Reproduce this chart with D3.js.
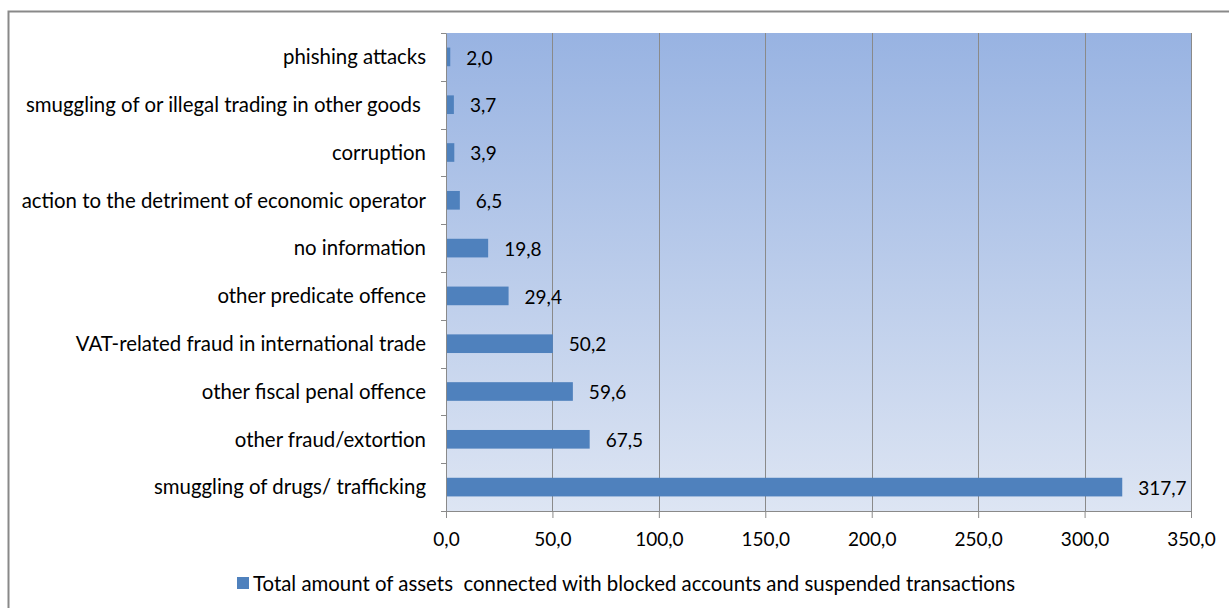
<!DOCTYPE html>
<html>
<head>
<meta charset="utf-8">
<script src="https://cdn.jsdelivr.net/npm/d3@7"></script>
<style>
  html, body { margin: 0; padding: 0; background: #fff; }
  svg text { font-family: Lato, "Open Sans", sans-serif; fill: #000; white-space: pre; }
</style>
</head>
<body>
<svg id="chart" width="1229" height="608"></svg>
<script>
// Offence categories, top to bottom
const categories = [
  "phishing attacks",
  "smuggling of or illegal trading in other goods ",
  "corruption",
  "action to the detriment of economic operator",
  "no information",
  "other predicate offence",
  "VAT-related fraud in international trade",
  "other fiscal penal offence",
  "other fraud/extortion",
  "smuggling of drugs/ trafficking"
];
// Total amount of assets per category
const values = [2.0, 3.7, 3.9, 6.5, 19.8, 29.4, 50.2, 59.6, 67.5, 317.7];
const xTicks = [0, 50, 100, 150, 200, 250, 300, 350];
const seriesName = "Total amount of assets  connected with blocked accounts and suspended transactions";

const svg = d3.select("#chart");
const fmt = v => d3.format(".1f")(v).replace(".", ",");

const plot = { left: 446, right: 1191, top: 33, bottom: 511 };
const labelSize = 20.4, numberSize = 19;

// outer frame
svg.append("rect")
  .attr("x", 8.5).attr("y", 11.5)
  .attr("width", 1240).attr("height", 620)
  .attr("fill", "none").attr("stroke", "#898989").attr("stroke-width", 2);

const defs = svg.append("defs");
const grad = defs.append("linearGradient")
  .attr("id", "bg").attr("x1", 0).attr("y1", 0).attr("x2", 0).attr("y2", 1);
grad.append("stop").attr("offset", "0%").attr("stop-color", "#98b3e2");
grad.append("stop").attr("offset", "100%").attr("stop-color", "#dde5f3");

const x = d3.scaleLinear().domain([0, 350]).range([plot.left, plot.right]);
const y = d3.scaleBand().domain(categories).range([plot.top, plot.bottom]).paddingInner(0).paddingOuter(0);

svg.append("rect")
  .attr("x", plot.left).attr("y", plot.top)
  .attr("width", plot.right - plot.left).attr("height", plot.bottom - plot.top)
  .attr("fill", "url(#bg)");

// vertical gridlines
svg.append("g").selectAll("line")
  .data(xTicks.slice(1))
  .join("line")
  .attr("x1", d => Math.round(x(d)) + 0.5).attr("x2", d => Math.round(x(d)) + 0.5)
  .attr("y1", plot.top).attr("y2", plot.bottom)
  .attr("stroke", "#8a8a8a").attr("stroke-width", 1);

// bars
const barH = y.bandwidth() * 0.39;
svg.append("g").selectAll("rect")
  .data(values)
  .join("rect")
  .attr("x", x(0))
  .attr("y", (d, i) => y(categories[i]) + (y.bandwidth() - barH) / 2)
  .attr("width", d => x(d) - x(0))
  .attr("height", barH)
  .attr("fill", "#4f81bd");

// value labels
svg.append("g").selectAll("text")
  .data(values)
  .join("text")
  .attr("x", d => x(d) + 16)
  .attr("y", (d, i) => y(categories[i]) + y.bandwidth() / 2)
  .attr("dy", "0.4em")
  .attr("font-size", numberSize)
  .text(d => fmt(d));

// y axis
const yAxis = svg.append("g")
  .attr("transform", `translate(${plot.left},0)`)
  .call(d3.axisLeft(y).tickSize(0).tickPadding(20));
yAxis.select(".domain").attr("stroke", "#8a8a8a");
yAxis.selectAll("text").attr("font-size", labelSize).attr("font-family", "Lato, sans-serif").attr("dy", "0.36em");
// category boundary ticks
yAxis.selectAll(".bnd")
  .data(d3.range(categories.length + 1))
  .join("line")
  .attr("class", "bnd")
  .attr("x1", -5).attr("x2", 0)
  .attr("y1", i => Math.round(plot.top + i * y.step()) + 0.5)
  .attr("y2", i => Math.round(plot.top + i * y.step()) + 0.5)
  .attr("stroke", "#8a8a8a");

// x axis
const xAxis = svg.append("g")
  .attr("transform", `translate(0,${plot.bottom})`)
  .call(d3.axisBottom(x).tickValues(xTicks).tickSize(7).tickPadding(15).tickFormat(fmt));
xAxis.select(".domain").attr("stroke", "#8a8a8a");
xAxis.selectAll(".tick line").attr("stroke", "#8a8a8a");
xAxis.selectAll("text").attr("font-size", numberSize).attr("font-family", "Lato, sans-serif");

// legend
const legend = svg.append("g").attr("transform", "translate(237,577)");
legend.append("rect").attr("width", 12).attr("height", 12).attr("fill", "#4f81bd");
legend.append("text").attr("x", 16).attr("y", 14)
  .attr("font-size", labelSize).text(seriesName);
</script>
</body>
</html>
